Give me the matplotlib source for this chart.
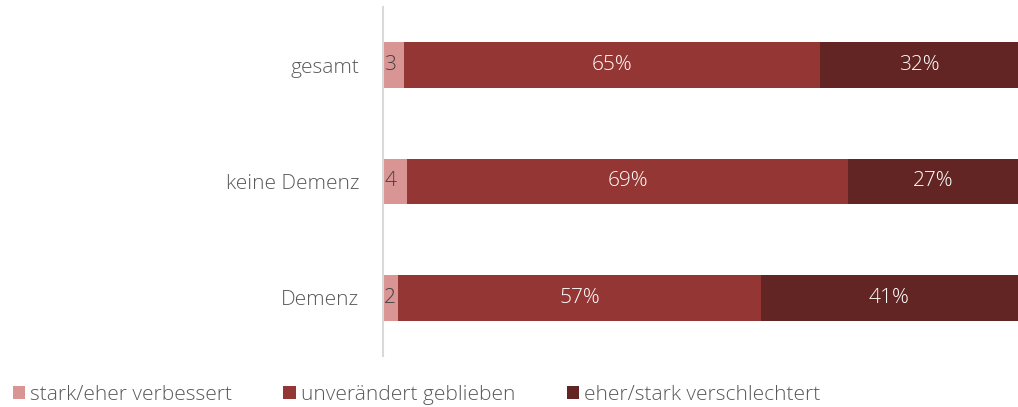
import matplotlib
matplotlib.use("Agg")
import matplotlib.pyplot as plt
from matplotlib.patches import Patch

plt.rcParams['font.family'] = ['Open Sans', 'DejaVu Sans']

categories = ["gesamt", "keine Demenz", "Demenz"]
series_names = ["stark/eher verbessert", "unverändert geblieben", "eher/stark verschlechtert"]
verbessert = [3.3, 3.8, 2.4]
unveraendert = [65.5, 69.4, 57.1]
verschlechtert = [31.2, 26.8, 40.5]
labels_verbessert = ["3", "4", "2"]
labels_unveraendert = ["65%", "69%", "57%"]
labels_verschlechtert = ["32%", "27%", "41%"]
colors = ["#D99594", "#943634", "#632523"]

FS = 15

fig = plt.figure(figsize=(10.18, 4.07), dpi=100)
ax = fig.add_axes([383/1018, 1-356/407, 635/1018, 349/407])

ypos = [2, 1, 0]
series = [verbessert, unveraendert, verschlechtert]
labels = [labels_verbessert, labels_unveraendert, labels_verschlechtert]
left = [0, 0, 0]
for i, (vals, labs) in enumerate(zip(series, labels)):
    ax.barh(ypos, vals, left=left, height=0.395, color=colors[i], edgecolor='none')
    for y, v, l, lab in zip(ypos, vals, left, labs):
        if i == 0:
            ax.text(l + 0.2, y, lab, ha='left', va='center', color='#404040',
                    fontsize=FS, fontweight='light')
        else:
            ax.text(l + v/2, y, lab, ha='center', va='center', color='white',
                    fontsize=FS, fontweight='light')
    left = [a + b for a, b in zip(left, vals)]

ax.set_xlim(0, 100)
ax.set_ylim(-0.5, 2.5)
ax.set_yticks(ypos)
ax.set_yticklabels(categories, fontsize=FS, color='#595959', fontweight='light')
ax.tick_params(axis='y', length=0, pad=17)
ax.set_xticks([])
for s in ['top', 'right', 'bottom']:
    ax.spines[s].set_visible(False)
ax.spines['left'].set_color('#D9D9D9')
ax.spines['left'].set_linewidth(1.5)

handles = [Patch(facecolor=c, edgecolor='none') for c in colors]
leg = fig.legend(handles, series_names, loc='lower left', bbox_to_anchor=(-0.006, -0.04),
                 ncol=3, frameon=False, fontsize=FS, handlelength=0.6, handleheight=0.6,
                 handletextpad=0.25, columnspacing=2.45, labelcolor='#595959')
for t in leg.get_texts():
    t.set_fontweight('light')

fig.savefig("out.png", dpi=100)
